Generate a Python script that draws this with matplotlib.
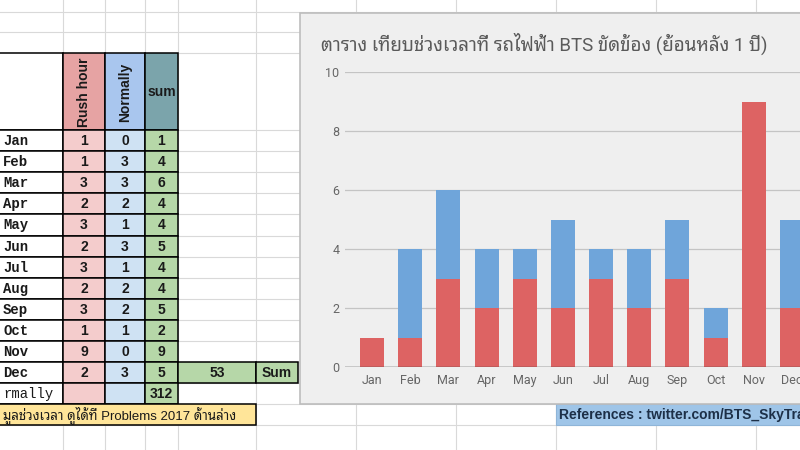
import matplotlib
matplotlib.use("Agg")
import matplotlib.pyplot as plt
from matplotlib.patches import Rectangle

# ---- data ----
months = ["Jan", "Feb", "Mar", "Apr", "May", "Jun",
          "Jul", "Aug", "Sep", "Oct", "Nov", "Dec"]
rush = [1, 1, 3, 2, 3, 2, 3, 2, 3, 1, 9, 2]
normal = [0, 3, 3, 2, 1, 3, 1, 2, 2, 1, 0, 3]
sums = [1, 4, 6, 4, 4, 5, 4, 4, 5, 2, 9, 5]
total = 53
normally_sum = 312
yticks = [0, 2, 4, 6, 8, 10]

title = "ตาราง เทียบช่วงเวลาที่ รถไฟฟ้า BTS ขัดข้อง (ย้อนหลัง 1 ปี)"
note = "มูลช่วงเวลา ดูได้ที่ Problems 2017 ด้านล่าง"
refs = "References : twitter.com/BTS_SkyTrain"

# ---- palette ----
C_GRID = "#d9d9d9"
C_RUSH_H, C_RUSH = "#e6a3a3", "#f4cccc"
C_NORM_H, C_NORM = "#a9c6ee", "#cfe2f3"
C_SUM_H, C_SUM = "#7ba4ab", "#b6d7a8"
C_YEL = "#ffe599"
C_REF = "#9fc5e8"
C_PANEL = "#efefef"
C_RED, C_BLUE = "#dd6363", "#6fa5da"

SANS = ["Liberation Sans", "Noto Sans Thai Looped"]
MONO = ["Liberation Mono", "DejaVu Sans Mono"]
CHART = ["Roboto", "Noto Sans Thai Looped"]

W, H = 800, 450
fig = plt.figure(figsize=(8, 4.5), dpi=100)
fig.patch.set_facecolor("white")

# spreadsheet layer in pixel coordinates
bg = fig.add_axes([0, 0, 1, 1])
bg.set_xlim(0, W)
bg.set_ylim(H, 0)
bg.axis("off")

cols = [63, 105, 145, 178, 256, 356, 456, 556, 656, 756]
RH = 21.1
R0 = 130
rows_y = [12, 32, 53] + [R0 + RH * k for k in range(15)]
for x in cols:
    bg.plot([x, x], [0, H], color=C_GRID, lw=0.8, zorder=1)
for y in rows_y:
    bg.plot([0, W], [y, y], color=C_GRID, lw=0.8, zorder=1)


def cell(x0, y0, x1, y1, fc, txt="", **kw):
    bg.add_patch(Rectangle((x0, y0), x1 - x0, y1 - y0, facecolor=fc,
                           edgecolor="black", lw=1.1, zorder=3))
    if txt != "":
        opts = dict(ha="center", va="center", fontsize=10, family=SANS,
                    fontweight="bold", color="#1a1a1a", zorder=4)
        opts.update(kw)
        tx = (x0 + x1) / 2 if opts["ha"] == "center" else max(x0, 0) + 3
        bg.text(tx, (y0 + y1) / 2 + 0.5, txt, **opts)


# header row
cell(-2, 53, 63, R0, "white")
cell(63, 53, 105, R0, C_RUSH_H, "Rush hour", rotation=90)
cell(105, 53, 145, R0, C_NORM_H, "Normally", rotation=90)
cell(145, 53, 178, R0, C_SUM_H, "sum", fontsize=10)

for k, m in enumerate(months):
    y0, y1 = R0 + RH * k, R0 + RH * (k + 1)
    cell(-2, y0, 63, y1, "white", m, family=MONO, fontsize=10, ha="left")
    cell(63, y0, 105, y1, C_RUSH, str(rush[k]))
    cell(105, y0, 145, y1, C_NORM, str(normal[k]))
    cell(145, y0, 178, y1, C_SUM, str(sums[k]))

yd0, yd1 = R0 + RH * 11, R0 + RH * 12
cell(178, yd0, 256, yd1, C_SUM, str(total))
cell(256, yd0, 298, yd1, C_SUM, "Sum")

yn0, yn1 = R0 + RH * 12, R0 + RH * 13
cell(-2, yn0, 63, yn1, "white", "rmally", family=MONO, fontweight="normal",
     ha="left")
cell(63, yn0, 105, yn1, C_RUSH)
cell(105, yn0, 145, yn1, C_NORM)
cell(145, yn0, 178, yn1, C_SUM, str(normally_sum))

yy0, yy1 = R0 + RH * 13, R0 + RH * 14
cell(-2, yy0, 256, yy1, C_YEL, note, fontweight="normal", ha="left",
     fontsize=9.5)

# references bar under the chart (runs off the right edge, as in the screenshot)
bg.add_patch(Rectangle((556, yy0), W - 556 + 5, yy1 - yy0, facecolor=C_REF,
                       edgecolor="#8fb5d8", lw=0.8, zorder=3))
bg.text(559, (yy0 + yy1) / 2 + 0.5, refs, ha="left", va="center",
        fontsize=10, fontweight="bold", family=SANS, color="#1d3048", zorder=4)

# chart panel
bg.add_patch(Rectangle((300, 13), W - 300 + 10, 404 - 13, facecolor=C_PANEL,
                       edgecolor="#bdbdbd", lw=1.2, zorder=5))
bg.text(321, 44, title, ha="left", va="center", fontsize=13.5,
        family=CHART, color="#5a5a5a", zorder=6)

# ---- the chart itself ----
px_left, px_right, px_y0, px_y10 = 345, 830, 367, 72
ax = fig.add_axes([px_left / W, (H - px_y0) / H, (px_right - px_left) / W,
                   (px_y0 - px_y10) / H])
ax.set_facecolor("none")
xs = list(range(len(months)))
ax.bar(xs, rush, width=0.63, color=C_RED, zorder=3)
ax.bar(xs, normal, width=0.63, bottom=rush, color=C_BLUE, zorder=3)
ax.set_xlim(-0.707, 11.996)
ax.set_ylim(0, 10)
ax.set_yticks(yticks)
ax.set_xticks(xs)
ax.set_xticklabels(months)
ax.grid(axis="y", color="#c4c4c4", lw=0.9, zorder=0)
ax.axhline(0, color="#444444", lw=1.0, zorder=4)
for s in ax.spines.values():
    s.set_visible(False)
ax.tick_params(axis="both", length=0, labelsize=9, colors="#666666")
ax.tick_params(axis="y", pad=4)
ax.tick_params(axis="x", pad=5)
for lab in ax.get_xticklabels() + ax.get_yticklabels():
    lab.set_family(CHART)

fig.savefig("out.png", dpi=100)
